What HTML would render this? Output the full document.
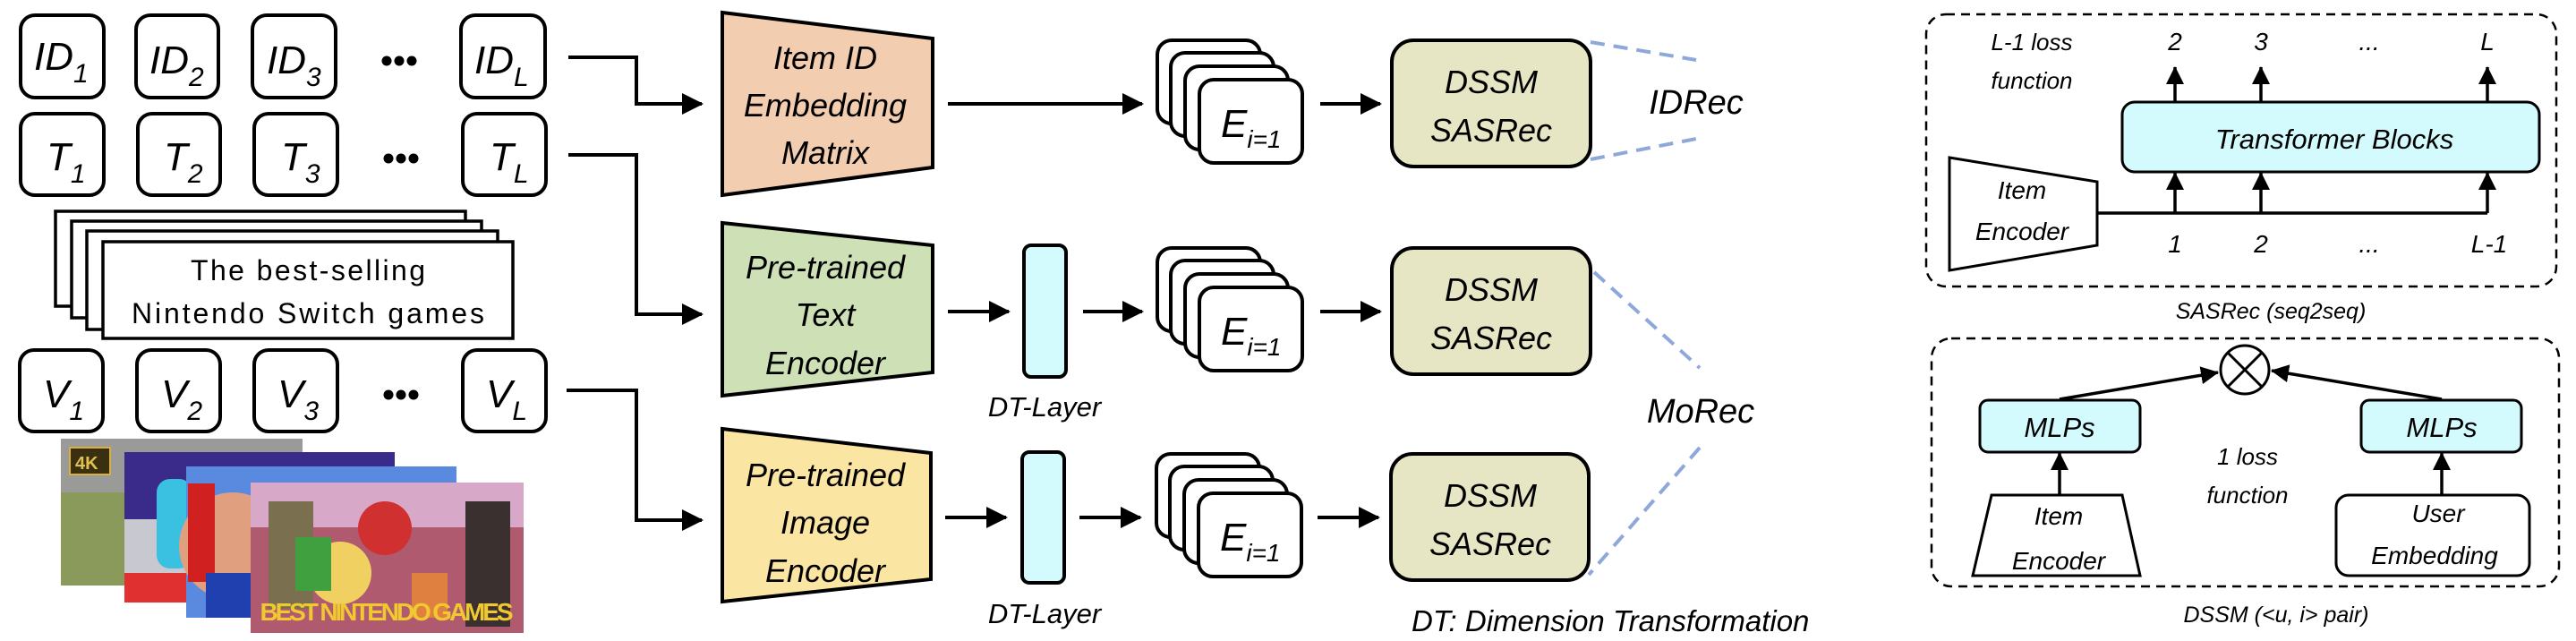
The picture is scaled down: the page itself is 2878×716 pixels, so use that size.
<!DOCTYPE html>
<html><head><meta charset="utf-8"><style>
html,body{margin:0;padding:0;background:#fff;}
svg{display:block;}
text{font-family:"Liberation Sans",sans-serif;font-style:italic;fill:#000;}
.n{font-style:normal;}
</style></head><body>
<svg width="2878" height="716" viewBox="0 0 2878 716" xmlns="http://www.w3.org/2000/svg">
<defs>
<marker id="ah" markerWidth="10" markerHeight="10" refX="8" refY="5" orient="auto" markerUnits="userSpaceOnUse" viewBox="0 0 10 10"><path d="M0,0 L10,5 L0,10 z" fill="#000"/></marker>
<marker id="ab" markerWidth="24" markerHeight="24" refX="22" refY="12" orient="auto" markerUnits="userSpaceOnUse" viewBox="0 0 24 24"><path d="M0,0 L24,12 L0,24 z" fill="#000"/></marker>
<marker id="as" markerWidth="20" markerHeight="20" refX="19" refY="10" orient="auto" markerUnits="userSpaceOnUse" viewBox="0 0 20 20"><path d="M0,0 L20,10 L0,20 z" fill="#000"/></marker>
</defs>

<!-- ID row -->
<g fill="#fff" stroke="#000" stroke-width="4">
<rect x="23" y="17" width="93" height="92" rx="16"/>
<rect x="152" y="17" width="92" height="92" rx="16"/>
<rect x="282" y="17" width="93" height="92" rx="16"/>
<rect x="515" y="17" width="94" height="92" rx="16"/>
<rect x="23" y="127" width="93" height="91" rx="16"/>
<rect x="154" y="127" width="92" height="91" rx="16"/>
<rect x="284" y="127" width="93" height="91" rx="16"/>
<rect x="517" y="127" width="93" height="91" rx="16"/>
<rect x="22" y="391" width="93" height="91" rx="16"/>
<rect x="153" y="391" width="93" height="91" rx="16"/>
<rect x="284" y="391" width="93" height="91" rx="16"/>
<rect x="517" y="391" width="93" height="91" rx="16"/>
</g>
<g font-size="44">
<text x="38" y="78">ID<tspan font-size="30" dy="14">1</tspan></text>
<text x="167" y="82">ID<tspan font-size="30" dy="14">2</tspan></text>
<text x="298" y="82">ID<tspan font-size="30" dy="14">3</tspan></text>
<text x="530" y="82">ID<tspan font-size="30" dy="14">L</tspan></text>
<text x="52" y="190">T<tspan font-size="30" dy="14">1</tspan></text>
<text x="183" y="190">T<tspan font-size="30" dy="14">2</tspan></text>
<text x="314" y="190">T<tspan font-size="30" dy="14">3</tspan></text>
<text x="547" y="190">T<tspan font-size="30" dy="14">L</tspan></text>
<text x="48" y="455">V<tspan font-size="30" dy="14">1</tspan></text>
<text x="180" y="455">V<tspan font-size="30" dy="14">2</tspan></text>
<text x="310" y="455">V<tspan font-size="30" dy="14">3</tspan></text>
<text x="543" y="455">V<tspan font-size="30" dy="14">L</tspan></text>
</g>
<g fill="#000">
<circle cx="432" cy="68" r="5.5"/><circle cx="446" cy="68" r="5.5"/><circle cx="460" cy="68" r="5.5"/>
<circle cx="434" cy="177" r="5.5"/><circle cx="448" cy="177" r="5.5"/><circle cx="462" cy="177" r="5.5"/>
<circle cx="434" cy="441" r="5.5"/><circle cx="448" cy="441" r="5.5"/><circle cx="462" cy="441" r="5.5"/>
</g>

<!-- text stack -->
<g fill="#fff" stroke="#000" stroke-width="3.5">
<rect x="62" y="236" width="458" height="106"/>
<rect x="80" y="247" width="458" height="108"/>
<rect x="97" y="258" width="459" height="110"/>
<rect x="115" y="270" width="458" height="108"/>
</g>
<text class="n" x="344" y="313" font-size="32" text-anchor="middle" style="font-style:normal" textLength="262">The best-selling</text>
<text class="n" x="344" y="361" font-size="32" text-anchor="middle" style="font-style:normal" textLength="394">Nintendo Switch games</text>

<!-- images -->
<rect x="68" y="490" width="270" height="164" fill="#8a9a5a"/>
<rect x="68" y="490" width="270" height="60" fill="#9a9a98"/>
<rect x="78" y="500" width="45" height="30" fill="#3a2f10" stroke="#d9b040" stroke-width="2"/>
<text class="n" x="84" y="524" font-size="20" style="font-style:normal;fill:#e0c050;font-weight:bold">4K</text>
<rect x="139" y="505" width="302" height="168" fill="#3a2a8a"/>
<rect x="139" y="580" width="302" height="70" fill="#c8c8d0"/>
<rect x="175" y="535" width="40" height="100" rx="15" fill="#3ac0e0"/>
<rect x="139" y="640" width="70" height="33" fill="#e03030"/>
<rect x="208" y="521" width="302" height="169" fill="#5a8ae0"/>
<circle cx="260" cy="610" r="60" fill="#e0a080"/>
<rect x="210" y="540" width="30" height="110" fill="#d02020"/>
<rect x="230" y="640" width="60" height="50" fill="#2040b0"/>
<rect x="280" y="539" width="305" height="168" fill="#b05a70"/>
<rect x="280" y="539" width="305" height="50" fill="#d8a8c8"/>
<rect x="300" y="560" width="50" height="120" fill="#7a7050"/>
<circle cx="380" cy="640" r="35" fill="#f0d060"/>
<circle cx="430" cy="590" r="30" fill="#d03030"/>
<rect x="330" y="600" width="40" height="60" fill="#40a040"/>
<rect x="520" y="560" width="50" height="140" fill="#3a3030"/>
<rect x="460" y="640" width="40" height="50" fill="#e08040"/>
<text class="n" x="432" y="693" font-size="28" text-anchor="middle" style="font-style:normal;fill:#f0c830;font-weight:bold" textLength="283">BEST NINTENDO GAMES</text>

<!-- connectors left -->
<g stroke="#000" stroke-width="4" fill="none">
<path d="M635,64 H711 V116 H784" marker-end="url(#ab)"/>
<path d="M635,173 H711 V351 H784" marker-end="url(#ab)"/>
<path d="M633,436 H711 V581 H784" marker-end="url(#ab)"/>
</g>

<!-- encoders -->
<polygon points="807,14 1042,43 1042,187 807,218" fill="#f2cdb0" stroke="#000" stroke-width="4"/>
<polygon points="807,249 1042,274 1042,416 807,442" fill="#cde0b6" stroke="#000" stroke-width="4"/>
<polygon points="807,479 1040,506 1040,647 807,672" fill="#fbe5a3" stroke="#000" stroke-width="4"/>
<g font-size="36" text-anchor="middle">
<text x="922" y="77">Item ID</text>
<text x="922" y="130">Embedding</text>
<text x="922" y="183">Matrix</text>
<text x="922" y="311">Pre-trained</text>
<text x="922" y="364">Text</text>
<text x="922" y="418">Encoder</text>
<text x="922" y="543">Pre-trained</text>
<text x="922" y="596">Image</text>
<text x="922" y="650">Encoder</text>
</g>

<!-- arrows middle -->
<g stroke="#000" stroke-width="4" fill="none">
<path d="M1059,116 H1276" marker-end="url(#ab)"/>
<path d="M1475,116 H1542" marker-end="url(#ab)"/>
<path d="M1059,348 H1127" marker-end="url(#ab)"/>
<path d="M1210,348 H1276" marker-end="url(#ab)"/>
<path d="M1475,348 H1542" marker-end="url(#ab)"/>
<path d="M1056,578 H1124" marker-end="url(#ab)"/>
<path d="M1206,578 H1274" marker-end="url(#ab)"/>
<path d="M1472,578 H1540" marker-end="url(#ab)"/>
</g>

<!-- DT layers -->
<rect x="1144" y="274" width="47" height="147" rx="8" fill="#d3fbfd" stroke="#000" stroke-width="4"/>
<rect x="1142" y="505" width="47" height="146" rx="8" fill="#d3fbfd" stroke="#000" stroke-width="4"/>
<text x="1167" y="465" font-size="31" text-anchor="middle">DT-Layer</text>
<text x="1167" y="696" font-size="31" text-anchor="middle">DT-Layer</text>

<!-- E stacks -->
<g fill="#fff" stroke="#000" stroke-width="4">
<g>
<rect x="1293" y="45" width="115" height="93" rx="16"/>
<rect x="1308" y="59" width="115" height="93" rx="16"/>
<rect x="1324" y="74" width="115" height="93" rx="16"/>
<rect x="1340" y="89" width="115" height="93" rx="16"/>
</g>
<g>
<rect x="1293" y="277" width="115" height="93" rx="16"/>
<rect x="1308" y="291" width="115" height="93" rx="16"/>
<rect x="1324" y="306" width="115" height="93" rx="16"/>
<rect x="1340" y="321" width="115" height="93" rx="16"/>
</g>
<g>
<rect x="1292" y="507" width="115" height="93" rx="16"/>
<rect x="1307" y="521" width="115" height="93" rx="16"/>
<rect x="1323" y="536" width="115" height="93" rx="16"/>
<rect x="1339" y="551" width="115" height="93" rx="16"/>
</g>
</g>
<g font-size="44">
<text x="1364" y="153">E<tspan font-size="28" dy="12">i=1</tspan></text>
<text x="1364" y="385">E<tspan font-size="28" dy="12">i=1</tspan></text>
<text x="1363" y="615">E<tspan font-size="28" dy="12">i=1</tspan></text>
</g>

<!-- DSSM boxes -->
<g fill="#e6e6c4" stroke="#000" stroke-width="4">
<rect x="1555" y="45" width="222" height="141" rx="24"/>
<rect x="1555" y="277" width="222" height="141" rx="24"/>
<rect x="1554" y="507" width="221" height="141" rx="24"/>
</g>
<g font-size="36" text-anchor="middle">
<text x="1666" y="104">DSSM</text>
<text x="1666" y="158">SASRec</text>
<text x="1666" y="336">DSSM</text>
<text x="1666" y="390">SASRec</text>
<text x="1665" y="566">DSSM</text>
<text x="1665" y="620">SASRec</text>
</g>

<!-- dashed blue -->
<g stroke="#8fa8da" stroke-width="4" stroke-dasharray="16,10" fill="none">
<path d="M1777,47 L1895,67"/>
<path d="M1777,178 L1895,155"/>
<path d="M1781,304 L1899,411"/>
<path d="M1899,500 L1775,642"/>
</g>
<text x="1895" y="127" font-size="38" text-anchor="middle">IDRec</text>
<text x="1900" y="472" font-size="38" text-anchor="middle">MoRec</text>
<text x="1577" y="705" font-size="33">DT: Dimension Transformation</text>

<!-- SASRec panel -->
<rect x="2152" y="16" width="704" height="304" rx="22" fill="none" stroke="#000" stroke-width="2.5" stroke-dasharray="10,7"/>
<text x="2270" y="56" font-size="26" text-anchor="middle">L-1 loss</text>
<text x="2270" y="99" font-size="26" text-anchor="middle">function</text>
<g font-size="28" text-anchor="middle">
<text x="2430" y="56">2</text><text x="2526" y="56">3</text><text x="2647" y="56">...</text><text x="2779" y="56">L</text>
<text x="2430" y="282">1</text><text x="2526" y="282">2</text><text x="2647" y="282">...</text><text x="2781" y="282">L-1</text>
</g>
<rect x="2371" y="114" width="466" height="78" rx="14" fill="#d3fbfd" stroke="#000" stroke-width="3"/>
<text x="2608" y="166" font-size="31" text-anchor="middle">Transformer Blocks</text>
<g stroke="#000" stroke-width="3.5" fill="none">
<path d="M2430,114 V75" marker-end="url(#as)"/>
<path d="M2526,114 V75" marker-end="url(#as)"/>
<path d="M2779,114 V75" marker-end="url(#as)"/>
<path d="M2343,238 H2779"/>
<path d="M2430,238 V193" marker-end="url(#as)"/>
<path d="M2526,238 V193" marker-end="url(#as)"/>
<path d="M2779,238 V193" marker-end="url(#as)"/>
</g>
<polygon points="2178,176 2343,203 2343,274 2178,302" fill="#fff" stroke="#000" stroke-width="3"/>
<text x="2259" y="222" font-size="28" text-anchor="middle">Item</text>
<text x="2259" y="268" font-size="28" text-anchor="middle">Encoder</text>
<text x="2537" y="356" font-size="25" text-anchor="middle">SASRec (seq2seq)</text>

<!-- DSSM panel -->
<rect x="2158" y="378" width="701" height="277" rx="22" fill="none" stroke="#000" stroke-width="2.5" stroke-dasharray="10,7"/>
<circle cx="2508" cy="413" r="27" fill="#fff" stroke="#000" stroke-width="3"/>
<path d="M2489,394 L2527,432 M2527,394 L2489,432" stroke="#000" stroke-width="3"/>
<g stroke="#000" stroke-width="3.5" fill="none">
<path d="M2301,446 L2478,416" marker-end="url(#as)"/>
<path d="M2728,446 L2538,414" marker-end="url(#as)"/>
<path d="M2301,553 V506" marker-end="url(#as)"/>
<path d="M2728,553 V506" marker-end="url(#as)"/>
</g>
<rect x="2212" y="447" width="179" height="58" rx="9" fill="#d3fbfd" stroke="#000" stroke-width="3"/>
<rect x="2638" y="447" width="179" height="58" rx="9" fill="#d3fbfd" stroke="#000" stroke-width="3"/>
<text x="2301" y="488" font-size="31" text-anchor="middle">MLPs</text>
<text x="2728" y="488" font-size="31" text-anchor="middle">MLPs</text>
<text x="2511" y="519" font-size="26" text-anchor="middle">1 loss</text>
<text x="2511" y="562" font-size="26" text-anchor="middle">function</text>
<polygon points="2225,553 2371,553 2391,643 2204,643" fill="#fff" stroke="#000" stroke-width="3"/>
<text x="2300" y="586" font-size="28" text-anchor="middle">Item</text>
<text x="2300" y="636" font-size="28" text-anchor="middle">Encoder</text>
<rect x="2610" y="553" width="216" height="90" rx="14" fill="#fff" stroke="#000" stroke-width="3"/>
<text x="2724" y="583" font-size="28" text-anchor="middle">User</text>
<text x="2720" y="630" font-size="28" text-anchor="middle">Embedding</text>
<text x="2543" y="695" font-size="25" text-anchor="middle">DSSM (&lt;u, i&gt; pair)</text>
</svg>
</body></html>
